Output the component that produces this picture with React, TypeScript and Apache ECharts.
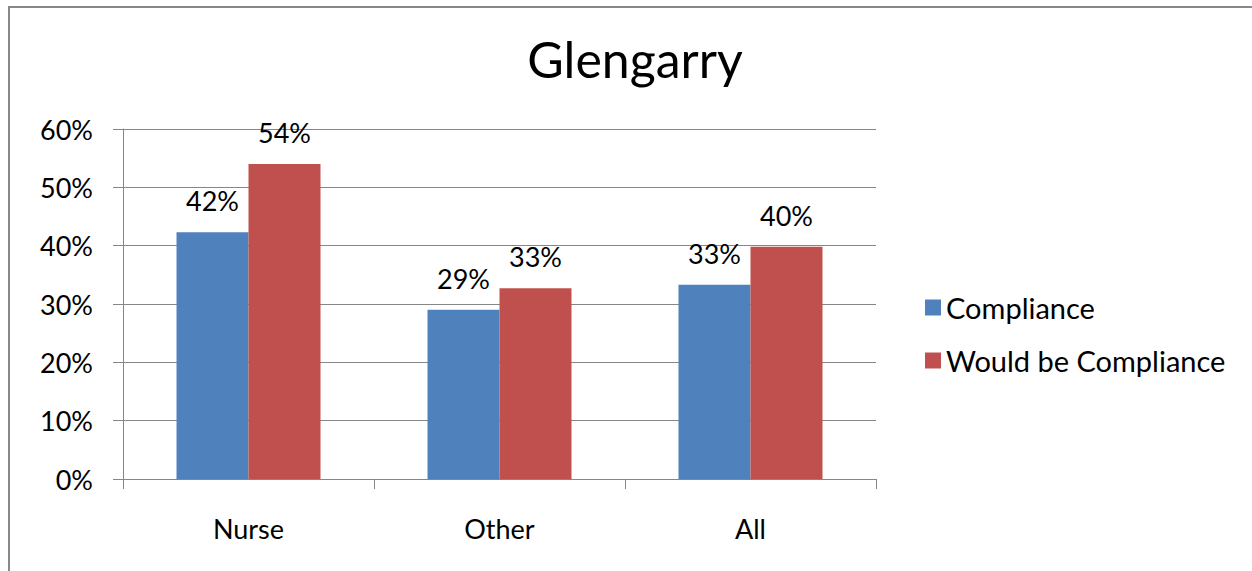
import React, { useEffect, useRef } from "react";
import * as echarts from "echarts";

const categories = ["Nurse", "Other", "All"];
const compliance = [0.423, 0.29, 0.333];
const wouldBeCompliance = [0.54, 0.327, 0.398];
const seriesNames = ["Compliance", "Would be Compliance"];
const titleText = "Glengarry";

const FONT = "Lato, 'Open Sans', sans-serif";

export default function App() {
  const ref = useRef<HTMLDivElement>(null);
  useEffect(() => {
    document.body.style.margin = "0";
    const chart = echarts.init(ref.current!, null, { renderer: "svg" });
    const pct = (v: number) => Math.round(v * 100) + "%";
    const labelCfg = {
      show: true,
      position: "top",
      distance: 18,
      fontFamily: FONT,
      fontSize: 27,
      color: "#000",
      formatter: (p: any) => pct(p.value),
    };
    chart.setOption({
      animation: false,
      backgroundColor: "#fff",
      textStyle: { fontFamily: FONT, color: "#000" },
      title: {
        text: titleText,
        left: 630,
        textAlign: "center",
        top: 29,
        textStyle: { fontFamily: FONT, fontSize: 50, fontWeight: "normal", color: "#000" },
      },
      graphic: [
        {
          type: "rect",
          shape: { x: 9, y: 7, width: 1300, height: 700 },
          style: { fill: "none", stroke: "#888", lineWidth: 2 },
          silent: true,
        },
      ],
      legend: {
        orient: "vertical",
        left: 920,
        top: 288,
        itemWidth: 16,
        itemHeight: 16,
        itemGap: 24,
        icon: "rect",
        textStyle: { fontFamily: FONT, fontSize: 29, color: "#000" },
        data: seriesNames,
      },
      grid: { left: 123, top: 129, width: 753, bottom: 92, containLabel: false },
      xAxis: {
        type: "category",
        data: categories,
        axisLine: { lineStyle: { color: "#868686", width: 1 } },
        axisTick: { show: true, length: 10, lineStyle: { color: "#868686" } },
        axisLabel: { fontFamily: FONT, fontSize: 27, color: "#000", margin: 36 },
      },
      yAxis: {
        type: "value",
        min: 0,
        max: 0.6,
        interval: 0.1,
        axisLine: { show: true, lineStyle: { color: "#868686", width: 1 } },
        axisTick: { show: true, length: 10, lineStyle: { color: "#868686" } },
        splitLine: { lineStyle: { color: "#868686", width: 1 } },
        axisLabel: { fontFamily: FONT, fontSize: 27, color: "#000", margin: 30, formatter: pct },
      },
      series: [
        {
          name: seriesNames[0],
          type: "bar",
          data: compliance,
          barWidth: 72,
          barGap: "0%",
          itemStyle: { color: "#4F81BD" },
          label: labelCfg,
        },
        {
          name: seriesNames[1],
          type: "bar",
          data: wouldBeCompliance,
          barWidth: 72,
          barGap: "0%",
          itemStyle: { color: "#C0504D" },
          label: labelCfg,
        },
      ],
    });
    return () => chart.dispose();
  }, []);
  return <div ref={ref} style={{ width: 1252, height: 571 }} />;
}
